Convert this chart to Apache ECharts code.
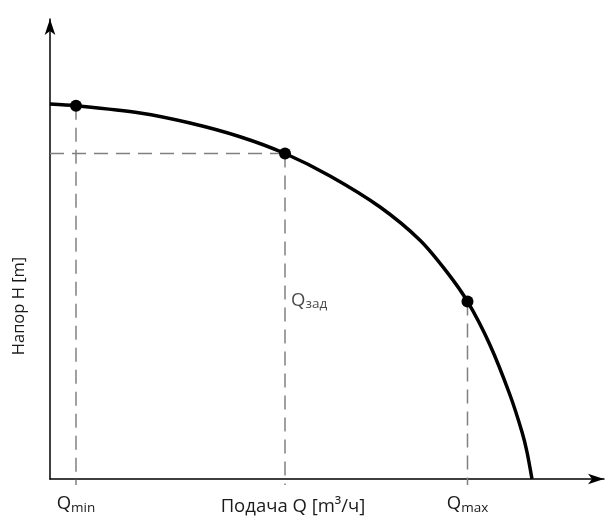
<!DOCTYPE html>
<html>
<head>
<meta charset="utf-8">
<script src="https://cdn.jsdelivr.net/npm/echarts@6/dist/echarts.min.js"></script>
<style>html,body{margin:0;padding:0;background:#fff}#c{width:616px;height:525px}</style>
</head>
<body>
<div id="c"></div>
<script>
// Pump curve: flow Q (relative units) vs head H (relative units)
const curveQ = [0, 4.69, 16.25, 25.27, 34.30, 42.42, 50.54, 59.57, 66.79, 71.66, 75.36, 79.42, 83.03, 85.20, 86.10, 87.00];
const curveH = [81.52, 81.15, 79.57, 77.39, 74.41, 70.76, 65.87, 59.13, 51.91, 44.98, 38.59, 29.13, 18.26, 10.22, 5.87, 0];
const pointNames = ['min', 'зад', 'max'];
const pointQ = [4.69, 42.42, 75.36];
const pointH = [81.15, 70.76, 38.59];
const dropBelow = -1.3;
const zadLabelH = 38.8;
const xTitle = 'Подача Q [m³/ч]';
const yTitle = 'Напор H [m]';

const FONT = 'Open Sans';
const TXT = '#1a1a1a';
const dashStyle = {color: '#808080', width: 1.5, type: [14, 8]};
const richQ = {
  q: {fontFamily: FONT, fontSize: 18.5, color: TXT},
  s: {fontFamily: FONT, fontSize: 13.5, color: TXT, padding: [8, 0, 0, 0]}
};

const series = [];
series.push({
  type: 'line', smooth: 0.3, symbol: 'none', clip: false,
  lineStyle: {color: '#000', width: 3.5},
  data: curveQ.map((q, i) => [q, curveH[i]]), z: 5
});
// vertical dashed drops
pointQ.forEach((q, i) => {
  series.push({
    type: 'line', symbol: 'none', clip: false, silent: true,
    lineStyle: dashStyle, z: 2,
    data: [[q, pointH[i]], [q, dropBelow]]
  });
});
// horizontal dashed for Qзад
series.push({
  type: 'line', symbol: 'none', clip: false, silent: true,
  lineStyle: dashStyle, z: 2,
  data: [[0, pointH[1]], [pointQ[1], pointH[1]]]
});
// markers
series.push({
  type: 'scatter', symbol: 'circle', symbolSize: 12, z: 6,
  itemStyle: {color: '#000', opacity: 1},
  data: pointQ.map((q, i) => [q, pointH[i]])
});
// Qзад label
series.push({
  type: 'scatter', symbolSize: 0, z: 6,
  data: [{value: [pointQ[1], zadLabelH], label: {show: true, position: 'right', distance: 6,
    formatter: '{q|Q}{s|' + pointNames[1] + '}', rich: richQ}}]
});

const chart = echarts.init(document.getElementById('c'), null, {renderer: 'canvas'});
chart.setOption({
  animation: false,
  backgroundColor: '#fff',
  grid: {left: 50, right: 12, top: 19, bottom: 46},
  xAxis: {
    type: 'value', min: 0, max: 100,
    splitLine: {show: false}, axisTick: {show: false},
    axisLine: {lineStyle: {color: '#000', width: 1.5}, symbol: ['none', 'arrow'], symbolSize: [8, 16]},
    axisLabel: {
      customValues: [pointQ[0], pointQ[2]], margin: 14,
      formatter: function (v) {
        const idx = pointQ.indexOf(v);
        return '{q|Q}{s|' + pointNames[idx] + '}';
      },
      rich: richQ
    }
  },
  yAxis: {
    type: 'value', min: 0, max: 100,
    splitLine: {show: false}, axisTick: {show: false}, axisLabel: {show: false},
    axisLine: {lineStyle: {color: '#000', width: 1.5}, symbol: ['none', 'arrow'], symbolSize: [8, 16]}
  },
  graphic: [
    {type: 'text', x: 293, y: 507, style: {text: xTitle, font: '18.5px "Open Sans"', fill: TXT, align: 'center', verticalAlign: 'middle'}},
    {type: 'text', x: 19, y: 306, rotation: Math.PI / 2, style: {text: yTitle, font: '16.5px "Open Sans"', fill: TXT, align: 'center', verticalAlign: 'middle'}}
  ],
  series: series
});
</script>
</body>
</html>
